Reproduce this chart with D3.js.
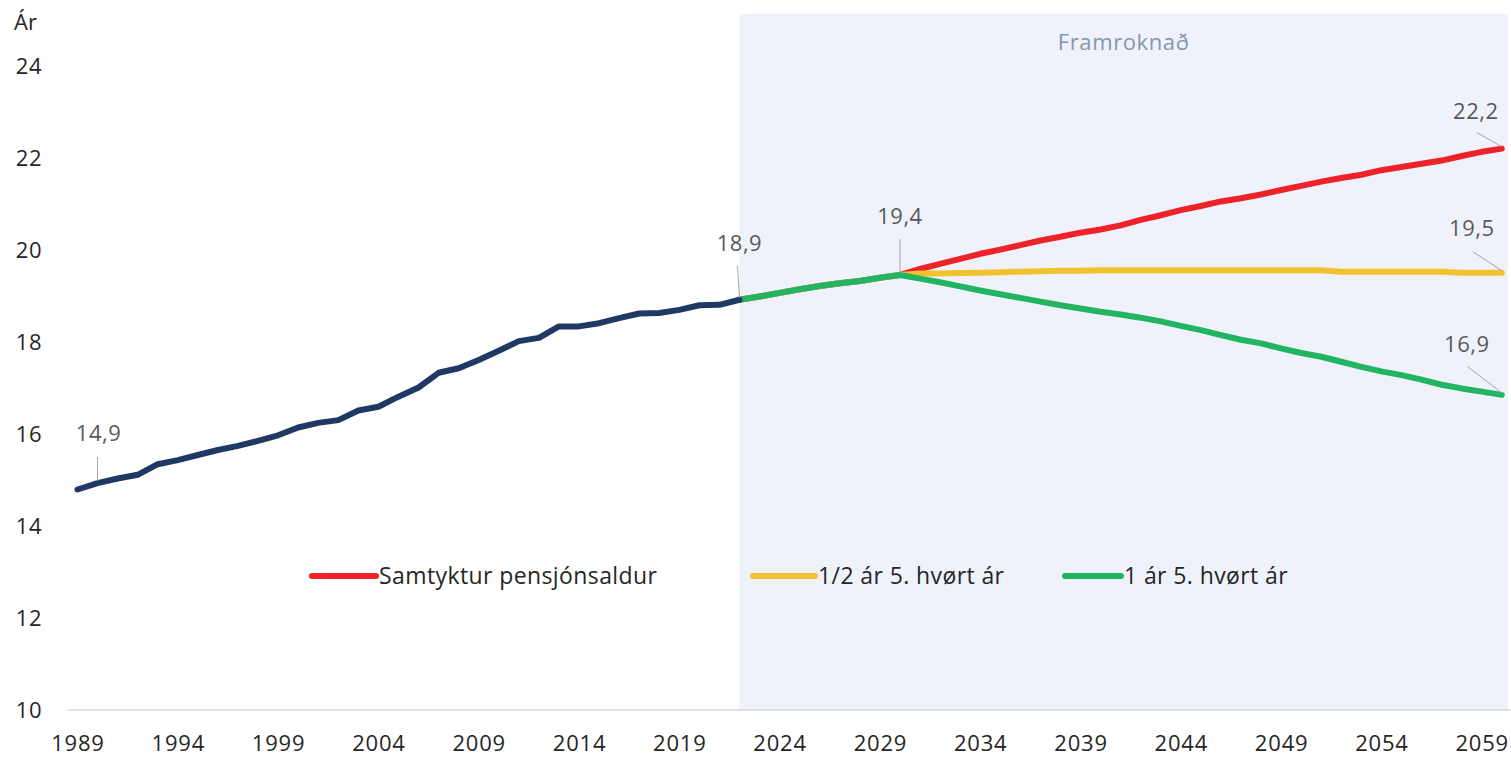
<!DOCTYPE html>
<html>
<head>
<meta charset="utf-8">
<script src="https://cdn.jsdelivr.net/npm/d3@7"></script>
<style>
  body { margin: 0; background: #fff; }
  text { font-family: "Open Sans", sans-serif; }
</style>
</head>
<body>
<svg id="svg" width="1511" height="758"></svg>
<script>
const w = 1511;
const h = 758;

// Data
const firstYear = 1989;
const lastYear = 2060;
const forecastStart = 2022;
const splitYear = 2030;

// 1989 - 2022
const historical = [14.8, 14.94, 15.04, 15.12, 15.35, 15.44, 15.55, 15.66, 15.75, 15.86,
  15.98, 16.15, 16.25, 16.31, 16.52, 16.6, 16.82, 17.02, 17.34, 17.44,
  17.62, 17.82, 18.03, 18.1, 18.35, 18.35, 18.42, 18.53, 18.63, 18.64,
  18.71, 18.81, 18.82, 18.93];

// 2022 - 2030, same for all three scenarios
const commonPath = [18.93, 19.0, 19.08, 19.16, 19.23, 19.29, 19.34, 19.41, 19.47];

// 2031 - 2060
const redValues = [19.6, 19.71, 19.82, 19.93, 20.02, 20.12, 20.22, 20.3, 20.39, 20.46,
  20.55, 20.67, 20.77, 20.88, 20.97, 21.07, 21.14, 21.22, 21.32, 21.41,
  21.5, 21.58, 21.65, 21.75, 21.82, 21.89, 21.96, 22.06, 22.15, 22.22];
const yellowValues = [19.5, 19.5, 19.51, 19.52, 19.53, 19.54, 19.55, 19.56, 19.56, 19.57,
  19.57, 19.57, 19.57, 19.57, 19.57, 19.57, 19.57, 19.57, 19.57, 19.57,
  19.57, 19.54, 19.54, 19.54, 19.54, 19.54, 19.54, 19.52, 19.52, 19.52];
const greenValues = [19.39, 19.31, 19.22, 19.13, 19.05, 18.97, 18.89, 18.81, 18.74, 18.67,
  18.61, 18.54, 18.46, 18.36, 18.27, 18.16, 18.06, 17.98, 17.87, 17.77,
  17.69, 17.58, 17.47, 17.37, 17.29, 17.19, 17.08, 17.0, 16.93, 16.86];

const seriesNames = ["Samtyktur pensjónsaldur", "1/2 ár 5. hvørt ár", "1 ár 5. hvørt ár"];
const seriesColors = ["#EE2229", "#F2C12E", "#22B462"];
const histColor = "#203864";

const yTicks = [10, 12, 14, 16, 18, 20, 22, 24];
const xTicks = [1989, 1994, 1999, 2004, 2009, 2014, 2019, 2024, 2029, 2034, 2039, 2044, 2049, 2054, 2059];

// labelled points: year, value text, which series
const dataLabels = [
  { year: 1990, text: "14,9", series: "hist" },
  { year: 2022, text: "18,9", series: "hist" },
  { year: 2030, text: "19,4", series: "common" },
  { year: 2060, text: "22,2", series: 0 },
  { year: 2060, text: "19,5", series: 1 },
  { year: 2060, text: "16,9", series: 2 }
];

// build year/value pairs
const toPoints = (start, vals) => vals.map((v, i) => [start + i, v]);
const histPoints = toPoints(firstYear, historical);
const commonPoints = toPoints(forecastStart, commonPath);
const scenarios = [redValues, yellowValues, greenValues].map((vals) =>
  commonPoints.concat(toPoints(splitYear + 1, vals)));

const valueAt = (series, year) => {
  let pts = series === "hist" ? histPoints : series === "common" ? commonPoints : scenarios[series];
  return pts.find((p) => p[0] === year)[1];
};

// Scales
let svg = d3.select("#svg");
let xScale = d3.scaleLinear([firstYear, lastYear], [77.5, 1501.8]);
let yScale = d3.scaleLinear([10, 25.15], [710, 14]);

// Forecast shading
svg.append("rect")
  .attr("x", xScale(forecastStart))
  .attr("y", yScale(25.15))
  .attr("width", xScale(lastYear + 0.3) - xScale(forecastStart))
  .attr("height", yScale(10) - yScale(25.15))
  .attr("fill", "#EFF2FA");

svg.append("text")
  .attr("x", (xScale(forecastStart) + xScale(lastYear + 0.3)) / 2)
  .attr("y", 50)
  .attr("text-anchor", "middle")
  .attr("font-size", 22)
  .attr("letter-spacing", 0.6)
  .attr("fill", "#8497B0")
  .text("Framroknað");

// Axes
let xAxis = d3.axisBottom(xScale)
  .tickValues(xTicks)
  .tickFormat(d3.format("d"))
  .tickSize(0)
  .tickPadding(25);
let gx = svg.append("g").attr("transform", `translate(0,${yScale(10)})`).call(xAxis);
gx.select(".domain").remove();
gx.selectAll("text").attr("font-size", 22).attr("letter-spacing", 0.8).attr("fill", "#262626")
  .style("font-family", "'Open Sans', sans-serif");

let yAxis = d3.axisLeft(yScale)
  .tickValues(yTicks)
  .tickSize(0)
  .tickPadding(25);
let gy = svg.append("g").attr("transform", `translate(${xScale(firstYear - 0.5)},0)`).call(yAxis);
gy.select(".domain").remove();
gy.selectAll("text").attr("font-size", 22).attr("letter-spacing", 0.8).attr("fill", "#262626")
  .style("font-family", "'Open Sans', sans-serif");

svg.append("text")
  .attr("x", 14)
  .attr("y", 30)
  .attr("font-size", 22)
  .attr("fill", "#262626")
  .text("Ár");

// baseline
svg.append("line")
  .attr("x1", xScale(firstYear - 0.5))
  .attr("x2", xScale(lastYear + 0.5))
  .attr("y1", yScale(10))
  .attr("y2", yScale(10))
  .attr("stroke", "#D9D9D9")
  .attr("stroke-width", 1.5);

// Lines
let lineFunc = d3.line()
  .x((d) => xScale(d[0]))
  .y((d) => yScale(d[1]));

scenarios.forEach((pts, i) => {
  svg.append("path")
    .datum(pts)
    .attr("fill", "none")
    .attr("stroke", seriesColors[i])
    .attr("stroke-width", 6)
    .attr("stroke-linejoin", "round")
    .attr("stroke-linecap", "round")
    .attr("d", lineFunc);
});

svg.append("path")
  .datum(histPoints)
  .attr("fill", "none")
  .attr("stroke", histColor)
  .attr("stroke-width", 6)
  .attr("stroke-linejoin", "round")
  .attr("stroke-linecap", "round")
  .attr("d", lineFunc);

// Data labels with leader lines
// offsets: [text dx, text dy, leader start dx, leader start dy]
const labelOffsets = [
  [1, -42, 0, -26],
  [0, -49, -2, -34],
  [0, -51, 0, -36],
  [-26, -30, -25, -16],
  [-30, -37, -29, -21],
  [-35, -43, -34, -28]
];

dataLabels.forEach((d, i) => {
  let px = xScale(d.year);
  let py = yScale(valueAt(d.series, d.year));
  let o = labelOffsets[i];
  svg.append("line")
    .attr("x1", px + o[2])
    .attr("y1", py + o[3])
    .attr("x2", px)
    .attr("y2", py - 2)
    .attr("stroke", "#A6A6A6")
    .attr("stroke-width", 1);
  svg.append("text")
    .attr("x", px + o[0])
    .attr("y", py + o[1])
    .attr("text-anchor", "middle")
    .attr("font-size", 22)
    .attr("letter-spacing", 0.5)
    .attr("fill", "#595959")
    .text(d.text);
});

// Legend
const legendLayout = [[312, 376], [753, 815], [1065, 1121]];
const legendY = 576;
seriesNames.forEach((name, i) => {
  let [x1, x2] = legendLayout[i];
  svg.append("line")
    .attr("x1", x1).attr("x2", x2)
    .attr("y1", legendY).attr("y2", legendY)
    .attr("stroke", seriesColors[i])
    .attr("stroke-width", 6)
    .attr("stroke-linecap", "round");
  svg.append("text")
    .attr("x", x2 + 3)
    .attr("y", legendY + 8)
    .attr("font-size", 23)
    .attr("letter-spacing", 0.4)
    .attr("fill", "#262626")
    .text(name);
});
</script>
</body>
</html>
